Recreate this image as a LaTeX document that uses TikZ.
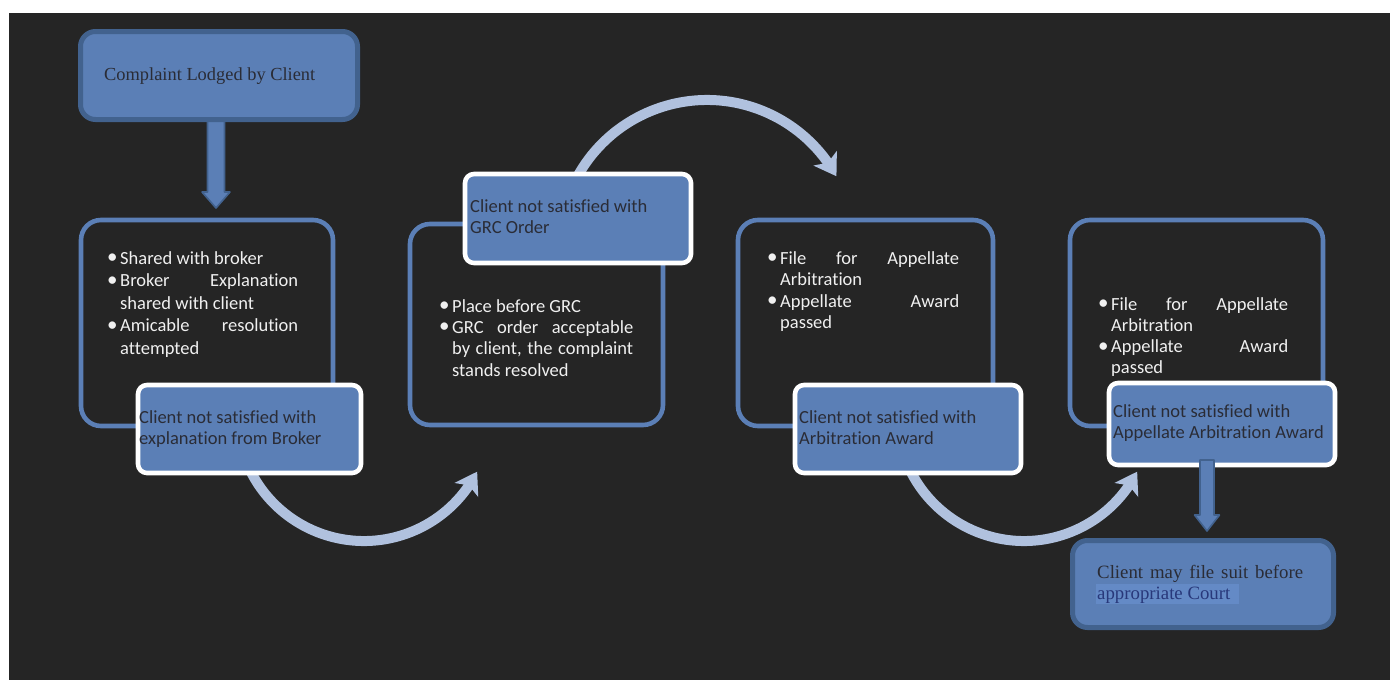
\documentclass[tikz,border=0pt]{standalone}
\usepackage{fontspec}
\setmainfont{Liberation Serif}
\newfontfamily\calfont[Ligatures={NoCommon,NoRare,NoContextual}]{Carlito}
\usetikzlibrary{arrows.meta,bending,calc}
\definecolor{bgc}{RGB}{37,37,37}
\definecolor{boxblue}{RGB}{91,127,182}
\definecolor{edgeblue}{RGB}{66,98,142}
\definecolor{arccol}{RGB}{176,193,222}
\definecolor{txtdark}{RGB}{42,44,54}
\definecolor{txtnavy}{RGB}{40,56,122}
\definecolor{hilite}{RGB}{100,138,198}
\newcommand\bul[1][13pt]{\makebox[#1][l]{\raisebox{0.5pt}{\fontsize{21}{21}\selectfont\textbullet}}}
\newcommand\ind[1][13pt]{\hspace*{#1}}
\begin{document}
\begin{tikzpicture}[x=1pt,y=-1pt,
  darkbox/.style={draw=boxblue, line width=4.6pt, rounded corners=20pt, fill=bgc, inner sep=0pt},
  bluebox/.style={draw=white, line width=4.6pt, rounded corners=9pt, fill=boxblue, inner sep=0pt},
  endbox/.style={draw=edgeblue, line width=5pt, rounded corners=15pt, fill=boxblue, inner sep=0pt},
  wtxt/.style={inner sep=0pt, anchor=base west, text=white!94!black, font=\calfont},
  dtxt/.style={inner sep=0pt, anchor=base west, text=txtdark, font=\calfont},
  stxt/.style={inner sep=0pt, anchor=base west, text=txtdark},
  arcarrow/.style={draw=arccol, line width=10pt, -{Stealth[length=21pt,width=27pt,inset=5pt,flex]}},
  fatarrow/.style={fill=boxblue, draw=edgeblue, line width=1.6pt, line join=round}
]
\useasboundingbox (0,0) rectangle (1390,680);
\fill[white] (0,0) rectangle (1390,680);
\fill[bgc] (9,13) rectangle (1390,680);

% dark boxes
\node[darkbox, minimum width=252pt, minimum height=206pt] (b1) at (207,323) {};
\node[darkbox, minimum width=253pt, minimum height=201pt] (b2) at (536.5,324.5) {};
\node[darkbox, minimum width=255pt, minimum height=206pt] (b3) at (865.5,323) {};
\node[darkbox, minimum width=253pt, minimum height=206pt] (b4) at (1196.5,323) {};

% curved arrows
\coordinate (c1) at (364,414);
\coordinate (c2) at (707,248);
\coordinate (c3) at (1024,414);
\draw[arcarrow] ($(c1)+(160:127)$) arc[start angle=160, end angle=27, radius=127];
\draw[arcarrow] ($(c2)+(205:148)$) arc[start angle=205, end angle=331, radius=148];
\draw[arcarrow] ($(c3)+(160:127)$) arc[start angle=160, end angle=27, radius=127];

% top down arrow
\coordinate (d1s) at (216,115);
\coordinate (d1e) at (216,208);
\draw[fatarrow] ($(d1s)+(-8.5,0)$) -- ($(d1e)+(-8.5,-16)$) -- ($(d1e)+(-14,-16)$) -- (d1e)
  -- ($(d1e)+(14,-16)$) -- ($(d1e)+(8.5,-16)$) -- ($(d1s)+(8.5,0)$) -- cycle;

% top box
\node[endbox, minimum width=277pt, minimum height=88pt] (top) at (219,75.5) {};
\node[stxt, font=\fontsize{18.4}{22}\selectfont, text=txtdark] (toptxt) at (104,80) {Complaint Lodged by Client};

% blue boxes
\node[bluebox, minimum width=223pt, minimum height=88pt] (b1b) at (249.5,429) {};
\node[bluebox, minimum width=226pt, minimum height=89pt] (b2b) at (578,218.5) {};
\node[bluebox, minimum width=226pt, minimum height=88pt] (b3b) at (908,429) {};
\node[bluebox, minimum width=226pt, minimum height=82pt] (b4b) at (1222,424) {};

% bullet texts
\node[wtxt] (t1) at (107,264) {\fontsize{18.5}{22.5}\selectfont\begin{tabular}[t]{@{}l@{}}
\bul Shared with broker\\
\bul\makebox[178pt][l]{Broker\hfill Explanation}\\
\ind shared with client\\
\bul\makebox[178pt][l]{Amicable\hfill resolution}\\
\ind attempted
\end{tabular}};
\node[wtxt] (t2) at (439,312) {\fontsize{18.5}{21.4}\selectfont\begin{tabular}[t]{@{}l@{}}
\bul Place before GRC\\
\bul\makebox[181pt][l]{GRC\hfill order\hfill acceptable}\\
\ind\makebox[181pt][s]{by client, the complaint}\\
\ind stands resolved
\end{tabular}};
\node[wtxt] (t3) at (767,264) {\fontsize{18.5}{21.5}\selectfont\begin{tabular}[t]{@{}l@{}}
\bul\makebox[179pt][l]{File\hfill for\hfill Appellate}\\
\ind Arbitration\\
\bul\makebox[179pt][l]{Appellate\hfill Award}\\
\ind passed
\end{tabular}};
\node[wtxt] (t4) at (1098,310) {\fontsize{18.5}{21.3}\selectfont\begin{tabular}[t]{@{}l@{}}
\bul\makebox[177pt][l]{File\hfill for\hfill Appellate}\\
\ind Arbitration\\
\bul\makebox[177pt][l]{Appellate\hfill Award}\\
\ind passed
\end{tabular}};

% blue box texts
\node[dtxt] (t1b) at (139,423) {\fontsize{18.5}{21}\selectfont\begin{tabular}[t]{@{}l@{}}
Client not satisfied with\\ explanation from Broker\end{tabular}};
\node[dtxt] (t2b) at (470,212) {\fontsize{18.5}{21}\selectfont\begin{tabular}[t]{@{}l@{}}
Client not satisfied with\\ GRC Order\end{tabular}};
\node[dtxt] (t3b) at (799,423) {\fontsize{18.5}{21}\selectfont\begin{tabular}[t]{@{}l@{}}
Client not satisfied with\\ Arbitration Award\end{tabular}};
\node[dtxt] (t4b) at (1113,417) {\fontsize{18.5}{21}\selectfont\begin{tabular}[t]{@{}l@{}}
Client not satisfied with\\ Appellate Arbitration Award\end{tabular}};

% lower down arrow
\coordinate (d2s) at (1207,460);
\coordinate (d2e) at (1207,531);
\draw[fatarrow] ($(d2s)+(-7,0)$) -- ($(d2e)+(-7,-16)$) -- ($(d2e)+(-12.5,-16)$) -- (d2e)
  -- ($(d2e)+(12.5,-16)$) -- ($(d2e)+(7,-16)$) -- ($(d2s)+(7,0)$) -- cycle;

% final box
\node[endbox, minimum width=261pt, minimum height=87pt] (fin) at (1203,584) {};
\fill[hilite] (1096,584) rectangle (1239,604);
\node[stxt, font=\fontsize{18.8}{21}\selectfont] (fint1) at (1097,578) {\makebox[206pt][s]{Client may file suit before}};
\node[stxt, font=\fontsize{18.8}{21}\selectfont, text=txtnavy] (fint2) at (1097,599) {appropriate Court};
\end{tikzpicture}
\end{document}
